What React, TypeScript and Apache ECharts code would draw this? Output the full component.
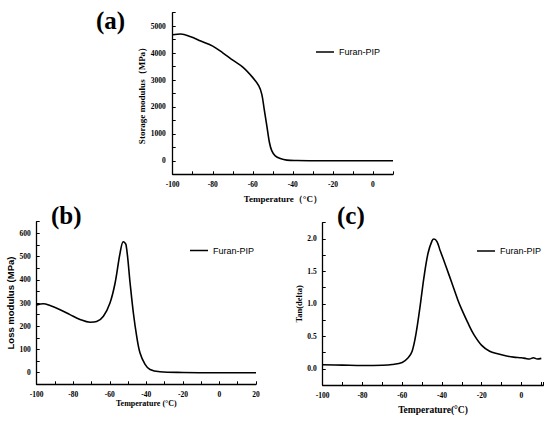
import React, { useEffect, useRef } from "react";
import * as echarts from "echarts";

// Panel (a): storage modulus
const tempA = [-100, -96, -91, -86, -80, -75, -70, -65, -60, -57, -55.5, -54.3, -53, -51.7, -50.5, -48.8, -46.3, -43, -38, -30, -20, 0, 10];
const storageA = [4680, 4710, 4610, 4450, 4260, 4010, 3740, 3480, 3090, 2780, 2470, 1910, 1300, 680, 370, 185, 86, 25, 10, 5, 3, 3, 3];

// Panel (b): loss modulus
const tempB = [-100, -96.4, -92.7, -87.2, -81.8, -76.3, -70.8, -67.2, -63.5, -59.9, -57.1, -54.4, -52.6, -51.1, -48.9, -47.1, -45.3, -43.5, -40.7, -38, -32.5, -20, 0, 20];
const lossB = [291, 297, 289, 271, 250, 229, 217, 220, 243, 300, 386, 514, 564, 550, 386, 257, 157, 86, 36, 14, 4, 1, 0, 0];

// Panel (c): tan(delta)
const tempC = [-100, -90, -80, -70, -65, -60, -57, -55, -53, -51, -49, -47, -45, -44, -42.5, -41, -38, -35, -32, -30, -27, -24, -20, -16, -12, -8, -4, 0, 2, 4, 6, 8, 10];
const tanC = [0.061, 0.056, 0.051, 0.055, 0.066, 0.097, 0.17, 0.27, 0.55, 0.96, 1.42, 1.78, 1.97, 2.0, 1.96, 1.83, 1.58, 1.32, 1.06, 0.91, 0.71, 0.53, 0.36, 0.27, 0.23, 0.2, 0.18, 0.17, 0.16, 0.15, 0.17, 0.15, 0.16];

const seriesName = "Furan-PIP";
const panelLabels = ["(a)", "(b)", "(c)"];

const serif = "'Liberation Serif', 'Times New Roman', serif";
const sans = "'Liberation Sans', Arial, sans-serif";

export default function App() {
  const ref = useRef<HTMLDivElement>(null);
  useEffect(() => {
    if (!ref.current) return;
    const chart = echarts.init(ref.current, null, { renderer: "svg" });
    const axisLine = { show: true, onZero: false, lineStyle: { color: "#000", width: 1.3 } };
    const axisTick = { show: true, inside: true, length: 3, lineStyle: { color: "#000", width: 1 } };
    const labelBase = { color: "#000", fontFamily: serif, fontWeight: "bold" as const, fontSize: 7.5 };
    const xLabel = {
      ...labelBase,
      margin: 6,
      formatter: (v: number) => (Math.abs(v % 20) < 1e-6 ? String(v) : ""),
    };
    const mkX = (grid: number, min: number, max: number, name: string, gap: number, nameStyle: any) => ({
      type: "value",
      gridIndex: grid,
      min,
      max,
      interval: 10,
      axisLine,
      axisTick,
      splitLine: { show: false },
      axisLabel: xLabel,
      name,
      nameLocation: "middle",
      nameGap: gap,
      nameTextStyle: nameStyle,
    });
    const lineStyle = { color: "#000", width: 1.6 };
    const mkSeries = (i: number, xs: number[], ys: number[]) => ({
      type: "line",
      name: seriesName,
      xAxisIndex: i,
      yAxisIndex: i,
      data: xs.map((x, k) => [x, ys[k]]),
      symbol: "none",
      smooth: 0.35,
      lineStyle,
      itemStyle: { color: "#000" },
    });
    const legendBase = {
      data: [{ name: seriesName, icon: "rect" }],
      itemWidth: 18,
      itemHeight: 1.5,
      selectedMode: false,
      itemStyle: { color: "#000" },
      textStyle: { color: "#000", fontFamily: sans, fontSize: 9 },
    };
    const option: any = {
      animation: false,
      backgroundColor: "#fff",
      grid: [
        { left: 172.7, top: 12.7, width: 220.3, height: 161.6 },
        { left: 36.7, top: 221.7, width: 219.3, height: 162.6 },
        { left: 322.7, top: 222.7, width: 220.6, height: 162.3 },
      ],
      title: [
        { text: panelLabels[0], left: 96, top: 8 },
        { text: panelLabels[1], left: 51, top: 203 },
        { text: panelLabels[2], left: 337, top: 203 },
      ].map((t) => ({
        ...t,
        padding: 0,
        textStyle: { color: "#000", fontFamily: serif, fontWeight: "bold", fontSize: 25 },
      })),
      legend: [
        { ...legendBase, left: 311, top: 42.5 },
        { ...legendBase, left: 185, top: 241 },
        { ...legendBase, left: 472, top: 241.5 },
      ],
      xAxis: [
        mkX(0, -100, 10, "Temperature（°C）", 20, { color: "#000", fontFamily: serif, fontWeight: "bold", fontSize: 9 }),
        mkX(1, -100, 20, "Temperature (°C)", 15, { color: "#000", fontFamily: serif, fontWeight: "bold", fontSize: 8 }),
        mkX(2, -100, 11, "Temperature(°C)", 20, { color: "#000", fontFamily: serif, fontWeight: "bold", fontSize: 9.5 }),
      ],
      yAxis: [
        {
          type: "value",
          gridIndex: 0,
          min: -500,
          max: 5500,
          interval: 500,
          axisLine,
          axisTick,
          splitLine: { show: false },
          axisLabel: { ...labelBase, margin: 7, formatter: (v: number) => (Math.abs(v % 1000) < 1e-6 ? String(v) : "") },
          name: "Storage modulus（MPa）",
          nameLocation: "middle",
          nameGap: 26,
          nameTextStyle: { color: "#000", fontFamily: serif, fontWeight: "bold", fontSize: 9 },
        },
        {
          type: "value",
          gridIndex: 1,
          min: -50,
          max: 650,
          interval: 50,
          axisLine,
          axisTick,
          splitLine: { show: false },
          axisLabel: { ...labelBase, margin: 6, formatter: (v: number) => (Math.abs(v % 100) < 1e-6 ? String(v) : "") },
          name: "Loss modulus (MPa)",
          nameLocation: "middle",
          nameGap: 20,
          nameTextStyle: { color: "#000", fontFamily: sans, fontWeight: "bold", fontSize: 9.5 },
        },
        {
          type: "value",
          gridIndex: 2,
          min: -0.25,
          max: 2.25,
          interval: 0.25,
          axisLine,
          axisTick,
          splitLine: { show: false },
          axisLabel: {
            ...labelBase,
            margin: 6,
            formatter: (v: number) => (Math.abs(v * 2 - Math.round(v * 2)) < 1e-6 ? v.toFixed(1) : ""),
          },
          name: "Tan(delta)",
          nameLocation: "middle",
          nameGap: 19,
          nameTextStyle: { color: "#000", fontFamily: serif, fontWeight: "bold", fontSize: 8.5 },
        },
      ],
      series: [mkSeries(0, tempA, storageA), mkSeries(1, tempB, lossB), mkSeries(2, tempC, tanC)],
    };
    chart.setOption(option);
    return () => chart.dispose();
  }, []);
  return <div ref={ref} style={{ position: "absolute", left: 0, top: 0, width: 550, height: 423 }} />;
}
